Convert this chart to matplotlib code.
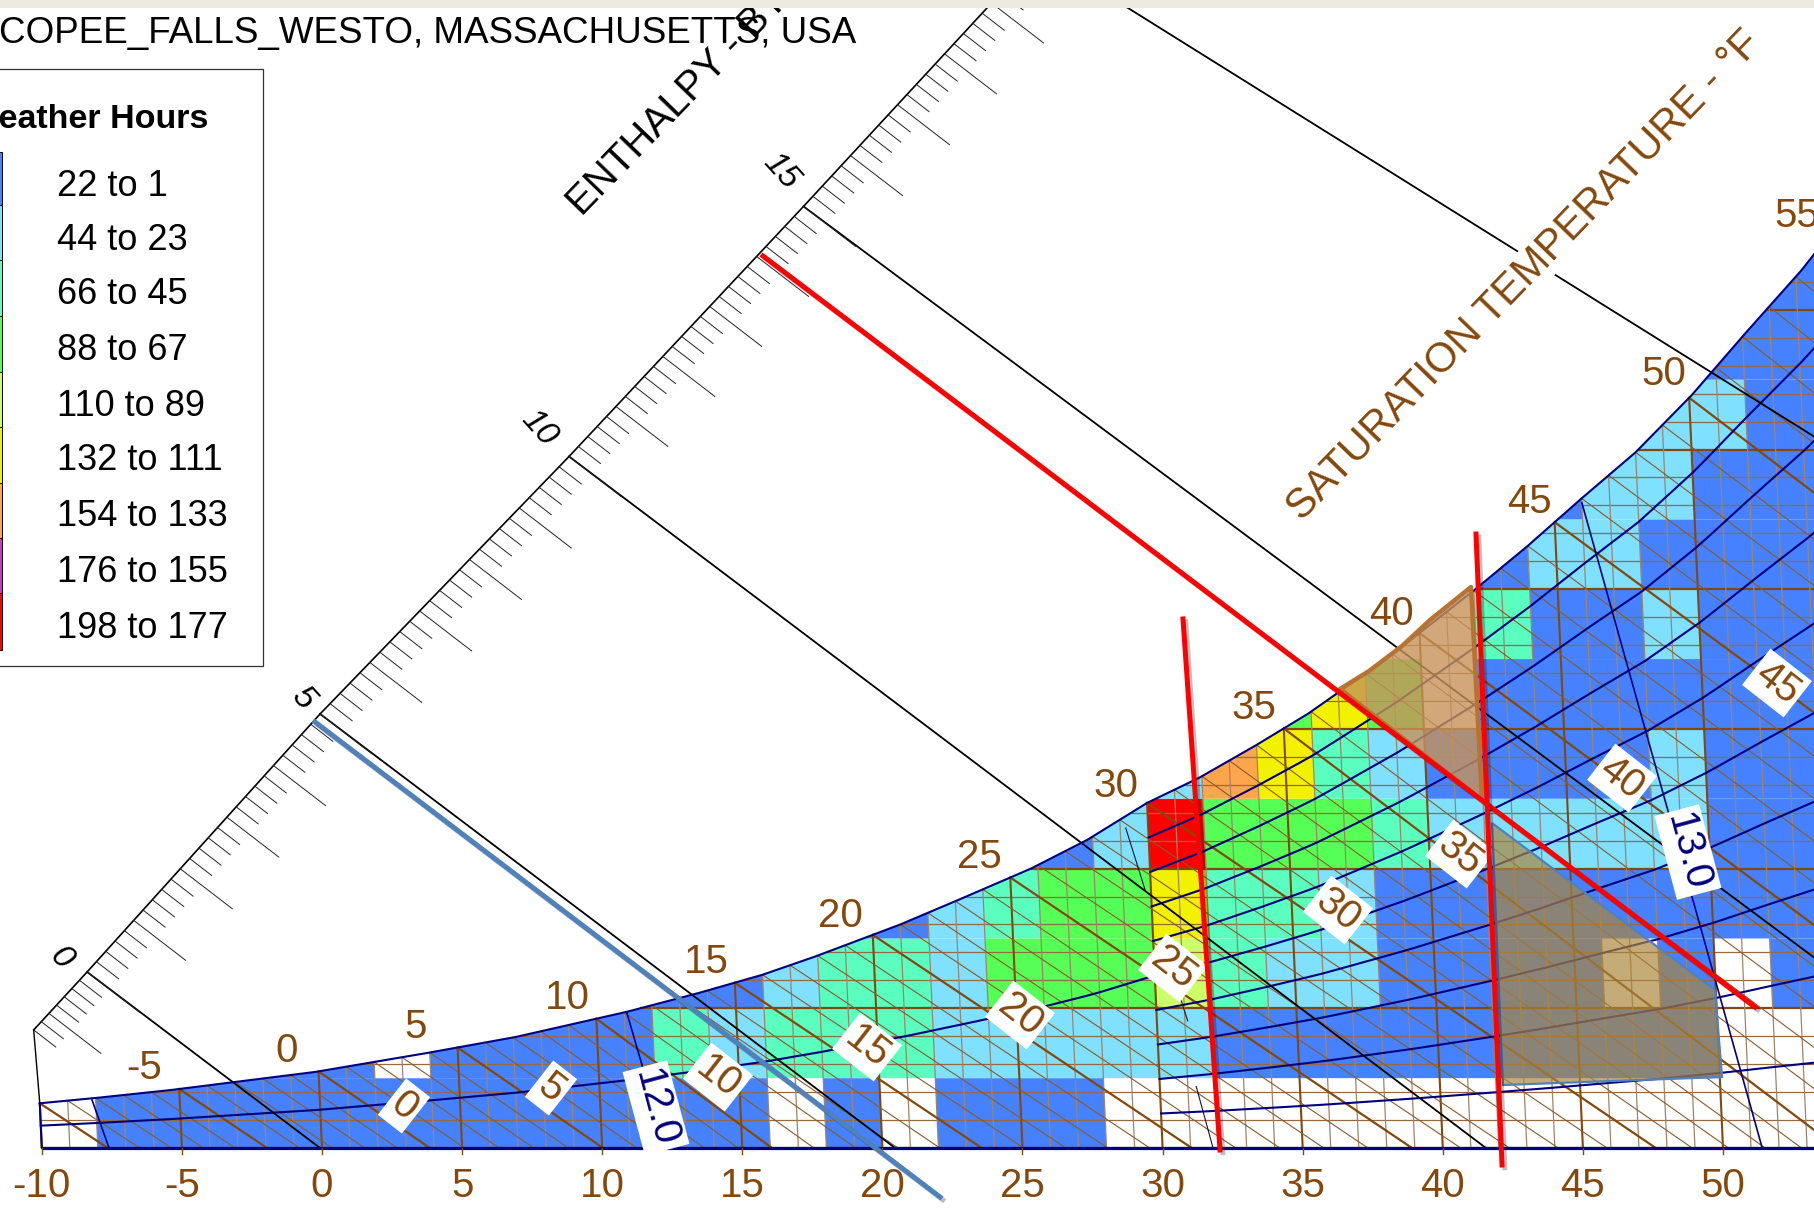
import numpy as np
import matplotlib
matplotlib.use("Agg")
import matplotlib.pyplot as plt
from matplotlib.patches import Polygon, Rectangle, PathPatch
from matplotlib.path import Path
from matplotlib.transforms import Affine2D
import matplotlib.patheffects as pe

# ---------- data ----------
title_text = "COPEE_FALLS_WESTO, MASSACHUSETTS, USA"
legend_title = "Weather Hours"
legend_labels = ["22 to 1", "44 to 23", "66 to 45", "88 to 67", "110 to 89",
                 "132 to 111", "154 to 133", "176 to 155", "198 to 177"]
level_colors = ["#FFFFFF", "#4682FF", "#7FE0FF", "#5AFFC0", "#55FF55",
                "#CCFF66", "#F2F200", "#FFA64D", "#C040C0", "#FF0000"]
# saturation curve: dry-bulb F, grains of moisture
sat_T = [-10, -7.9, -5.3, -3.1, -0.1, 3.9, 7.1, 11.1, 13.7, 16, 17.9, 21, 23.1, 25.75, 27.8, 30,
         31.9, 34, 35.9, 37, 39.1, 42, 44, 46, 48, 50.1, 52.1, 54.2, 54.7, 56.8, 60]
sat_g = [3.2, 3.6, 4.15, 4.7, 5.45, 6.8, 7.95, 9.75, 11.1, 12.4, 13.7, 16, 17.75, 20, 22.05, 24.7,
         26.5, 28.85, 31.1, 32.6, 35.5, 39.9, 43.1, 46.5, 49.8, 53.9, 58.3, 62.8, 64, 68.6, 75]
# hour bins: one list per 5-grain row of (T from, T to, level)
row_00 = [(-10, -8, 0), (-8, 16, 1), (16, 18, 0), (18, 20, 1), (20, 22, 0), (22, 28, 1), (28, 60, 0)]
row_05 = [(-10, 2, 1), (2, 4, 0), (4, 12, 1), (12, 14, 3), (14, 16, 2), (16, 22, 3), (22, 32, 2),
          (32, 50, 1), (50, 60, 0)]
row_10 = [(-10, 16, 1), (16, 18, 2), (18, 22, 3), (22, 24, 2), (24, 30, 4), (30, 32, 5), (32, 34, 3),
          (34, 38, 2), (38, 46, 1), (46, 48, 0), (48, 50, 1), (50, 52, 0), (52, 60, 1)]
row_15 = [(-10, 22, 1), (22, 24, 2), (24, 26, 3), (26, 30, 4), (30, 32, 6), (32, 36, 3), (36, 38, 2),
          (38, 60, 1)]
row_20 = [(-10, 28, 1), (28, 30, 2), (30, 32, 9), (32, 38, 4), (38, 40, 3), (40, 50, 2), (50, 60, 1)]
row_25 = [(-10, 32, 2), (32, 34, 7), (34, 36, 6), (36, 38, 3), (38, 40, 2), (40, 48, 1), (48, 50, 2),
          (50, 60, 1)]
row_30 = [(-10, 36, 4), (36, 38, 6), (38, 40, 4), (40, 42, 0), (42, 60, 1)]
row_35 = [(-10, 42, 0), (42, 44, 3), (44, 48, 1), (48, 50, 2), (50, 60, 1)]
row_40 = [(-10, 44, 1), (44, 48, 2), (48, 60, 1)]
row_45 = [(-10, 46, 1), (46, 50, 2), (50, 60, 1)]
row_50 = [(-10, 52, 2), (52, 60, 1)]
row_55 = [(-10, 60, 1)]
row_60 = [(-10, 60, 1)]
row_65 = [(-10, 60, 1)]
rows = [row_00, row_05, row_10, row_15, row_20, row_25, row_30, row_35, row_40, row_45, row_50,
        row_55, row_60, row_65]
# saturation-temperature lines: value at the curve and dry-bulb at zero grains
wb_T = [-10, -5, 0, 5, 10, 15, 20, 25, 30, 35, 40, 45, 50, 55, 60]
wb_end = [-7.64, -1.96, 3.85, 10.03, 16.06, 23.55, 31.04, 38.9, 47.6, 54.1, 64, 74.4, 84, 93, 103]
# enthalpy scale: value, dry-bulb, grains along the scale edge
enth_h = [-1.4, 0, 5, 10, 15, 20, 22]
enth_scale_T = [-10.1, -8.1, 0.63, 9.93, 18.7, 27.5, 31]
enth_scale_g = [8.45, 12.6, 31.07, 49.5, 67.4, 85.6, 93]
enth_line_h = [0, 5, 10, 15, 20]
enth_line_end = [-0.07, 20.45, 41.54, 62.4, 93.9]
enth_label_vals = ["0", "5", "10", "15"]
enth_label_x = [61, 303, 539, 781]
enth_label_y = [958, 698, 428, 171]
# specific-volume lines (T0, g0, T1, g1)
vol_lines = [(-8.13, 3.44, -7.6, 0), (11.1, 9.66, 12.28, 0), (46, 46.2, 51.4, 0)]
vol_125 = [(29.2, 22.9, 29.8, 18.4), (30.8, 11.3, 31.1, 9.1), (31.3, 4.4, 31.8, 0)]
rh_levels = [0.9, 0.8, 0.7, 0.6, 0.5, 0.4, 0.3, 0.2, 0.1]
x_ticks = [-10, -5, 0, 5, 10, 15, 20, 25, 30, 35, 40, 45, 50]
sat_label_vals = [-5, 0, 5, 10, 15, 20, 25, 30, 35, 40, 45, 50, 55]
sat_label_x = [144, 287, 416, 567, 706, 840, 979, 1116, 1254, 1392, 1529, 1664, 1797]
sat_label_y = [1068, 1051, 1027, 998, 962, 916, 857, 786, 708, 614, 502, 374, 216]
wb_label_vals = ["0", "5", "10", "15", "20", "25", "30", "35", "40", "45"]
wb_label_x = [404, 551, 718, 867, 1020, 1173, 1338, 1460, 1622, 1777]
wb_label_y = [1106, 1088, 1077, 1047, 1015, 968, 910, 854, 778, 683]
vol_label_vals = ["12.0", "13.0"]
vol_label_x = [656, 1688]
vol_label_y = [1108, 852]

BROWN = "#84480C"
NAVY = "#00007F"
plt.rcParams["font.family"] = ["Liberation Sans", "DejaVu Sans"]

fig = plt.figure(figsize=(18.15, 12.11), dpi=100, facecolor="white")
ax = fig.add_axes([0, 0, 1, 1])
ax.set_xlim(0, 1815)
ax.set_ylim(1211, 0)
ax.axis("off")

# chart space (dry-bulb F, grains) leaning slightly into picture pixels
PXT, PXG, LEAN, Y0, X0 = 28.02, 13.97, 0.63, 1148, 322
chart = Affine2D(np.array([[PXT, -LEAN, X0], [0, -PXG, Y0], [0, 0, 1]])) + ax.transData

sat = lambda t: np.interp(t, sat_T, sat_g)
region = np.column_stack([[-10] + sat_T + [60, -10], [0] + sat_g + [0, 0]])
clip = PathPatch(Path(region, closed=False), transform=chart, fc="none", ec="none")
ax.add_patch(clip)

# bins
for i, row in enumerate(rows):
    g0, g1 = 5 * i, 5 * (i + 1)
    for t0, t1, lev in row:
        p = Polygon([(t0, g0), (t1, g0), (t1, g1), (t0, g1)], closed=True, transform=chart,
                    fc=level_colors[lev], ec="none", zorder=1)
        ax.add_patch(p)
        p.set_clip_path(clip)

# moisture lines
for g in range(0, 76, 2):
    bold = g % 10 == 0
    t_end = np.interp(g, sat_g, sat_T) if g > sat_g[0] else -10
    ax.plot([t_end, 60], [g, g], transform=chart, color=BROWN if bold else "#96693F",
            lw=1.6 if bold else 0.9, zorder=2, solid_capstyle="butt")

# dry-bulb lines
for t in range(-10, 61):
    bold = t % 5 == 0
    ax.plot([t, t], [0, sat(t)], transform=chart, color=BROWN if bold else "#A08468",
            lw=1.5 if bold else 0.9, zorder=2, solid_capstyle="butt")

# saturation-temperature lines
for t in range(-10, 61):
    bold = t % 5 == 0
    end = np.interp(t, wb_T, wb_end)
    ax.plot([t, end], [sat(t), 0], transform=chart, color=BROWN if bold else "#8A5A2A",
            lw=1.6 if bold else 0.8, zorder=3)

# relative humidity curves
tt = np.arange(30, 60.5, 0.5)
for rh in rh_levels:
    ax.plot(tt, rh * sat(tt), transform=chart, color=NAVY, lw=1.5, zorder=4)
tl = np.arange(-10, 30.5, 0.5)
ax.plot(tl, 0.5 * sat(tl), transform=chart, color=NAVY, lw=1.5, zorder=4)

# specific volume lines
for a, b, c, d in vol_lines:
    ax.plot([a, c], [b, d], transform=chart, color=NAVY, lw=1.2, zorder=4)
for a, b, c, d in vol_125:
    ax.plot([a, c], [b, d], transform=chart, color="#101040", lw=0.8, zorder=4)

# enthalpy lines + scale
sT = lambda h: np.interp(h, enth_h, enth_scale_T)
sG = lambda h: np.interp(h, enth_h, enth_scale_g)
ax.plot(enth_scale_T, enth_scale_g, transform=chart, color="black", lw=1.2, zorder=5)
ax.plot([-10.1, -10], [8.45, 3.2], transform=chart, color="black", lw=1.0, zorder=5)
for h, e in zip(enth_line_h, enth_line_end):
    ax.plot([sT(h), e], [sG(h), 0], transform=chart, color="black", lw=1.3, zorder=5)
for k in range(-7, 111):
    h = k * 0.2
    long_tick = k % 5 == 0
    dt, dg = (1.79, 2.86) if long_tick else (0.76, 1.22)
    ax.plot([sT(h), sT(h) + dt], [sG(h), sG(h) - dg], transform=chart, color="#222222", lw=0.7, zorder=5)
for v, x, y in zip(enth_label_vals, enth_label_x, enth_label_y):
    ax.text(x, y, v, color="black", fontsize=24, style="italic", ha="center", va="center",
            rotation=-48, rotation_mode="anchor", zorder=7)

# outline
ax.plot(sat_T, sat_g, transform=chart, color=NAVY, lw=1.5, zorder=6)
ax.plot([-10, -10], [0, 3.2], transform=chart, color=NAVY, lw=1.5, zorder=6)
ax.plot([-10, 70], [0, 0], transform=chart, color=NAVY, lw=2.3, zorder=6, solid_capstyle="butt")
for t in x_ticks:
    ax.plot([X0 + PXT * t] * 2, [Y0, Y0 + 6], color=BROWN, lw=1.0, zorder=6)
    ax.text(X0 + PXT * t, 1186, str(t), color=BROWN, fontsize=29, ha="center", va="center", zorder=7)

# labels on curve
for v, x, y in zip(sat_label_vals, sat_label_x, sat_label_y):
    ax.text(x, y, str(v), color=BROWN, fontsize=29, ha="center", va="center", zorder=7, clip_on=True)
box = dict(fc="white", ec="none", pad=3)
for v, x, y in zip(wb_label_vals, wb_label_x, wb_label_y):
    ax.text(x, y, v, color=BROWN, fontsize=29, ha="center", va="center", rotation=-38,
            rotation_mode="anchor", bbox=box, zorder=7)
for v, x, y in zip(vol_label_vals, vol_label_x, vol_label_y):
    ax.text(x, y, v, color=NAVY, fontsize=29, ha="center", va="center", rotation=-75,
            rotation_mode="anchor", bbox=box, zorder=7)

# axis names
ax.text(582, 217, "ENTHALPY - BTU", color="black", fontsize=29, rotation=46, rotation_mode="anchor",
        ha="left", va="baseline", zorder=8, clip_on=True)
ax.text(1524, 276, "SATURATION TEMPERATURE - °F", color=BROWN, fontsize=30, rotation=46,
        rotation_mode="anchor", ha="center", va="center", zorder=7,
        bbox=dict(fc="white", ec="none", pad=1))

# title & legend
ax.text(856, 34, title_text, color="black", fontsize=26.5, ha="right", va="center", zorder=9)
ax.add_patch(Rectangle((-3, 68.5), 266, 597.5, fc="white", ec="#333333", lw=0.9, zorder=9))
ax.text(208, 120, legend_title, color="black", fontsize=24.5, fontweight="bold",
        ha="right", va="center", zorder=10)
edges = [152, 205, 260, 316, 372, 427, 483, 538, 593, 650]
legend_swatch = [1, 2, 3, 4, 5, 6, 7, 8, 9]
ys = [186, 241, 295, 350, 406, 461, 517, 572, 628]
for i, lab in enumerate(legend_labels):
    ax.add_patch(Rectangle((-4, edges[i]), 6, edges[i + 1] - edges[i], fc=level_colors[legend_swatch[i]],
                           ec="black", lw=0.7, zorder=10))
    ax.text(57, ys[i], lab, color="black", fontsize=26, ha="left", va="center", zorder=10)

# hand-drawn annotations
gray = Polygon([(1492, 823), (1715, 990), (1722, 1077), (1503, 1085)], closed=True,
               fc=(170 / 255, 133 / 255, 59 / 255, 0.69), ec="#4F81BD", lw=1.6, zorder=11)
ax.add_patch(gray)
orange = Polygon([(1340, 689), (1369, 671), (1402, 646), (1430, 620), (1471, 587), (1482, 800)], closed=True,
                 fc=(199 / 255, 147 / 255, 89 / 255, 0.8), ec="#B87333", lw=3.2, zorder=11, joinstyle="round")
ax.add_patch(orange)
shadow = [pe.SimpleLineShadow(offset=(2, -2), alpha=0.25, shadow_color="black"), pe.Normal()]
ax.plot([315, 940], [722, 1197], color="#4F81BD", lw=3.6, zorder=12, path_effects=shadow)
for xs, ysl in [([763, 1755], [256, 1007]), ([1183, 1220], [619, 1150]), ([1476, 1502], [534, 1165])]:
    ax.plot(xs, ysl, color="#FF0000", lw=3.6, zorder=13, path_effects=shadow)

# top strip
ax.add_patch(Rectangle((0, 0), 1815, 8, fc="#EDEBE0", ec="none", zorder=20))

fig.savefig("out.png", dpi=100, facecolor="white")
